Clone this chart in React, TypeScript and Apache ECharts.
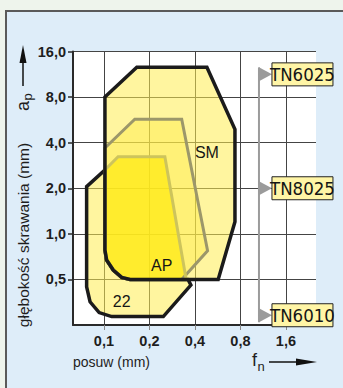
import React, { useEffect, useRef } from "react";
import * as echarts from "echarts";

const FONT = '"Liberation Sans", Arial, sans-serif';
const NARROW = '"Liberation Sans Narrow", "DejaVu Sans Condensed", "Liberation Sans", sans-serif';

// axis values (mm), log2 scale
const feedTicks = [0.1, 0.2, 0.4, 0.8, 1.6];
const depthTicks = [0.5, 1.0, 2.0, 4.0, 8.0, 16.0];
const feedRange = [0.0624, 2.53];
const depthRange = [0.25, 16];

// regions: [feed fn (mm), depth ap (mm)]
const region22 = [
  [0.0768, 2.05], [0.1015, 2.64], [0.1015, 0.782], [0.1042, 0.672], [0.1152, 0.577],
  [0.131, 0.516], [0.149, 0.5], [0.36, 0.5], [0.376, 0.459], [0.247, 0.284],
  [0.1125, 0.284], [0.0929, 0.302], [0.0809, 0.356], [0.0768, 0.447],
];
const regionSM = [
  [0.1015, 8.0], [0.165, 12.6], [0.48, 12.6], [0.736, 4.9], [0.736, 1.2], [0.57, 0.5],
  [0.149, 0.5], [0.131, 0.516], [0.1152, 0.577], [0.1042, 0.672], [0.1015, 0.782],
];
const regionSMCore = [
  [0.1015, 3.69], [0.16, 5.71], [0.327, 5.71], [0.485, 0.774], [0.327, 0.5],
  [0.149, 0.5], [0.131, 0.516], [0.1152, 0.577], [0.1042, 0.672], [0.1015, 0.782],
];
const regionAP = [
  [0.1015, 2.64], [0.124, 3.23], [0.253, 3.23], [0.35, 0.5],
  [0.149, 0.5], [0.131, 0.516], [0.1152, 0.577], [0.1042, 0.672], [0.1015, 0.782],
];
const regionLabels = ["22", "SM", "AP"];
const regionLabelPos = [[0.131, 0.356], [0.48, 3.47], [0.241, 0.622]];

const grades = ["TN6025", "TN8025", "TN6010"];
const gradeDepth = [11.3, 2.0, 0.29];
const gradeFeed = 1.061;

const lx = (f: number) => Math.log2(f / 0.1);
const ly = (d: number) => Math.log2(d);
const fmt = (v: number) => v.toFixed(1).replace(".", ",");

export default function App() {
  const ref = useRef<HTMLDivElement>(null);
  useEffect(() => {
    if (!ref.current) return;
    const chart = echarts.init(ref.current, undefined, { renderer: "svg" });
    const FILL_LIGHT = "rgba(255,236,80,0.55)";
    const FILL_MID = "rgba(255,234,60,0.4)";
    const FILL_AP = "rgba(255,234,20,0.75)";
    const BLACK = "#1b1b1b";
    const option: any = {
      animation: false,
      grid: { left: 73, top: 51.5, right: 27, bottom: 63, show: true, backgroundColor: "#ffffff", borderWidth: 0 },
      xAxis: {
        type: "value",
        min: lx(feedRange[0]),
        max: lx(feedRange[1]),
        axisLine: { show: true, onZero: false, lineStyle: { color: "#2a2a2a", width: 2 } },
        axisTick: { show: true, customValues: feedTicks.map(lx), length: 5, lineStyle: { color: "#888", width: 1 } },
        axisLabel: {
          customValues: feedTicks.map(lx),
          formatter: (v: number) => fmt(0.1 * Math.pow(2, v)),
          color: "#1e1e1e", fontFamily: FONT, fontWeight: "bold", fontSize: 14.5, margin: 8,
        },
        splitLine: { show: true, lineStyle: { color: "#444", width: 1 } },
      },
      yAxis: {
        type: "value",
        min: ly(depthRange[0]),
        max: ly(depthRange[1]),
        axisLine: { show: true, onZero: false, lineStyle: { color: "#2a2a2a", width: 2 } },
        axisTick: { show: true, customValues: depthTicks.map(ly), length: 5, lineStyle: { color: "#2a2a2a", width: 1.5 } },
        axisLabel: {
          customValues: depthTicks.map(ly),
          formatter: (v: number) => fmt(Math.pow(2, v)),
          color: "#1e1e1e", fontFamily: FONT, fontWeight: "bold", fontSize: 14.5, margin: 7,
        },
        splitLine: { show: true, lineStyle: { color: "#444", width: 1 } },
      },
      graphic: [
        {
          type: "group", x: 23, y: 235, rotation: Math.PI / 2,
          children: [{
            type: "text", x: 0, y: 0,
            style: { text: "głębokość skrawania (mm)", font: `15.5px ${FONT}`, fill: "#1e1e1e", align: "center", verticalAlign: "middle" },
          }],
        },
        {
          type: "group", x: 23, y: 100, rotation: Math.PI / 2,
          children: [
            { type: "text", x: -6, y: 0, style: { text: "a", font: `18px ${FONT}`, fill: "#1e1e1e", align: "center", verticalAlign: "middle" } },
            { type: "text", x: 3, y: 4, style: { text: "p", font: `13px ${FONT}`, fill: "#1e1e1e", align: "center", verticalAlign: "middle" } },
          ],
        },
        { type: "line", shape: { x1: 23, y1: 86, x2: 23, y2: 58 }, style: { stroke: "#111", lineWidth: 1.5 } },
        { type: "polygon", shape: { points: [[23, 45], [26.5, 63], [19.5, 63]] }, style: { fill: "#111" } },
        { type: "text", x: 73, y: 362, style: { text: "posuw (mm)", font: `14px ${FONT}`, fill: "#1e1e1e", align: "left", verticalAlign: "middle" } },
        { type: "text", x: 252, y: 360, style: { text: "f", font: `18px ${FONT}`, fill: "#1e1e1e", align: "left", verticalAlign: "middle" } },
        { type: "text", x: 257.5, y: 366, style: { text: "n", font: `13px ${FONT}`, fill: "#1e1e1e", align: "left", verticalAlign: "middle" } },
        { type: "line", shape: { x1: 269, y1: 362, x2: 300, y2: 362 }, style: { stroke: "#111", lineWidth: 1.5 } },
        { type: "polygon", shape: { points: [[317, 362], [296, 358.5], [296, 365.5]] }, style: { fill: "#111" } },
      ],
      series: [
        {
          type: "custom",
          coordinateSystem: "cartesian2d",
          data: [[0, 0]],
          clip: false,
          renderItem: (_params: any, api: any) => {
            const P = (arr: number[][]) => arr.map(([f, d]) => api.coord([lx(f), ly(d)]));
            const children: any[] = [
              { type: "polygon", shape: { points: P(region22) }, style: { fill: FILL_LIGHT, stroke: BLACK, lineWidth: 3.5, lineJoin: "miter" } },
              { type: "polygon", shape: { points: P(regionSM) }, style: { fill: FILL_LIGHT } },
              { type: "polygon", shape: { points: P(regionSMCore) }, style: { fill: FILL_MID } },
              { type: "polygon", shape: { points: P(regionAP) }, style: { fill: FILL_AP } },
              { type: "polygon", shape: { points: P(regionSMCore) }, style: { fill: "none", stroke: "#9c976a", lineWidth: 3, lineJoin: "miter" } },
              { type: "polygon", shape: { points: P(regionAP) }, style: { fill: "none", stroke: "#cdc45c", lineWidth: 3, lineJoin: "miter" } },
              { type: "polygon", shape: { points: P(regionSM) }, style: { fill: "none", stroke: BLACK, lineWidth: 3.5, lineJoin: "miter" } },
            ];
            regionLabels.forEach((t, i) => {
              const [x, y] = api.coord([lx(regionLabelPos[i][0]), ly(regionLabelPos[i][1])]);
              children.push({ type: "text", x, y, style: { text: t, font: `16px ${FONT}`, fill: "#151515", align: "center", verticalAlign: "middle" } });
            });
            return { type: "group", children };
          },
        },
        {
          type: "custom",
          coordinateSystem: "cartesian2d",
          data: [[0, 0]],
          clip: false,
          renderItem: (_params: any, api: any) => {
            const pts = gradeDepth.map((d) => api.coord([lx(gradeFeed), ly(d)]));
            const children: any[] = [
              { type: "line", shape: { x1: pts[0][0], y1: pts[0][1] - 7, x2: pts[0][0], y2: pts[pts.length - 1][1] + 7 }, style: { stroke: "#9b9b9b", lineWidth: 2 } },
            ];
            pts.forEach(([x, y], i) => {
              children.push({ type: "polygon", shape: { points: [[x, y - 7], [x + 13, y], [x, y + 7]] }, style: { fill: "#9b9b9b" } });
              children.push({ type: "rect", shape: { x: x + 13, y: y - 11.5, width: 61, height: 23 }, style: { fill: "#fff5a6", stroke: "#222", lineWidth: 1 } });
              children.push({ type: "text", x: x + 43.5, y: y + 0.5, style: { text: grades[i], font: `18.5px ${NARROW}`, fill: "#151515", align: "center", verticalAlign: "middle" } });
            });
            return { type: "group", children };
          },
        },
      ],
    };
    chart.setOption(option);
    return () => chart.dispose();
  }, []);

  return (
    <div style={{ position: "fixed", left: 0, top: 0, width: 343, height: 388, background: "#eef4ec", overflow: "hidden" }}>
      <div style={{ position: "absolute", left: 5, top: 10, width: 360, height: 400, boxSizing: "border-box", border: "2px solid #5a5a5a", background: "#deedf9" }} />
      <div ref={ref} style={{ position: "absolute", left: 0, top: 0, width: 343, height: 388 }} />
    </div>
  );
}
